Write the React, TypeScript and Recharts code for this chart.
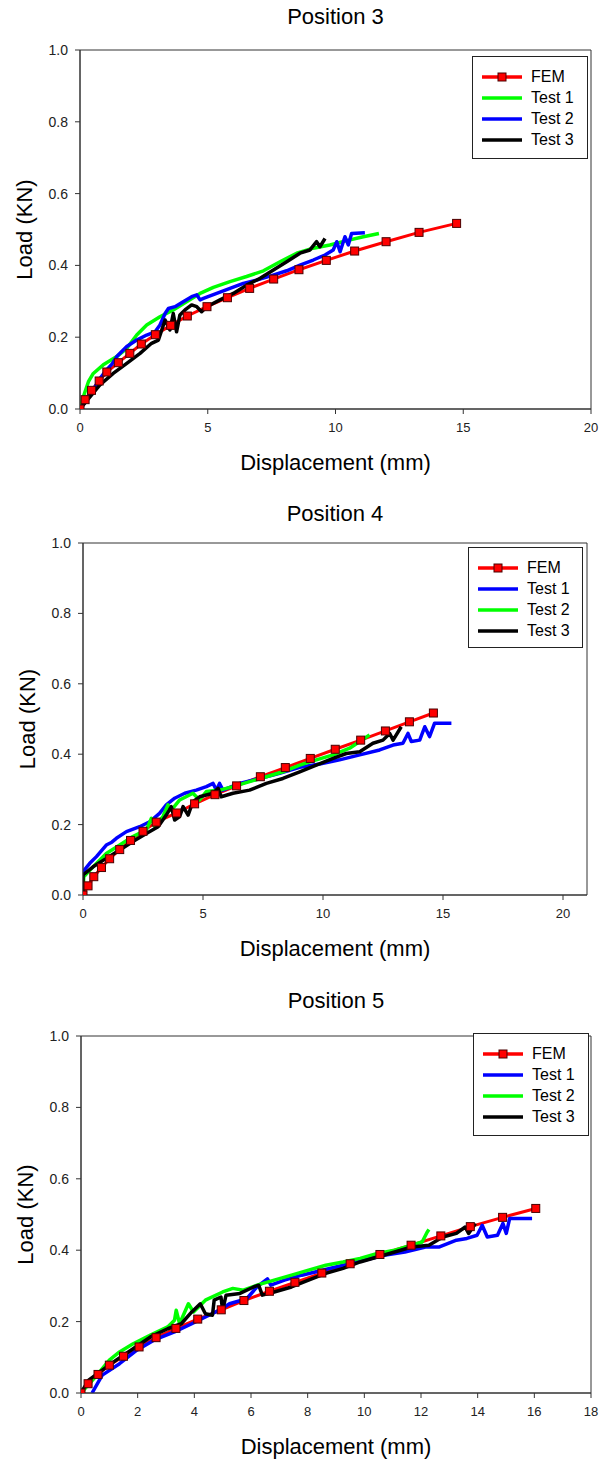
import React from 'react';
import { LineChart, Line, XAxis, YAxis, Legend, ReferenceArea, Label } from 'recharts';

type Pair = [number, number];

// FEM load steps (kN), shared by the three positions
const femLoads = [0, 0.026, 0.052, 0.078, 0.103, 0.129, 0.155, 0.181, 0.207, 0.233, 0.259,
  0.285, 0.31, 0.336, 0.362, 0.388, 0.414, 0.44, 0.466, 0.492, 0.517];

// FEM displacement (mm) at each load step
const pos3FemDisp = [0, 0.2, 0.45, 0.75, 1.05, 1.5, 1.95, 2.4, 2.95, 3.55, 4.2, 4.97, 5.77, 6.64, 7.58, 8.57, 9.64, 10.75, 11.98, 13.27, 14.74];
const pos4FemDisp = [0, 0.21, 0.45, 0.77, 1.11, 1.53, 1.98, 2.5, 3.05, 3.9, 4.65, 5.5, 6.4, 7.39, 8.43, 9.47, 10.51, 11.57, 12.6, 13.6, 14.6];
const pos5FemDisp = [0, 0.25, 0.6, 1.0, 1.5, 2.05, 2.65, 3.35, 4.12, 4.95, 5.75, 6.65, 7.55, 8.5, 9.5, 10.55, 11.65, 12.7, 13.74, 14.88, 16.05];

// test curves, [displacement, load]
const pos3Test1: Pair[] = [[0, 0], [0.13, 0.034], [0.33, 0.076], [0.52, 0.099], [0.91, 0.123], [1.44, 0.146], [1.83, 0.169],
  [2.22, 0.206], [2.61, 0.234], [3.13, 0.257], [3.65, 0.276], [4.17, 0.299], [4.7, 0.322], [5.22, 0.339], [5.87, 0.355],
  [6.52, 0.369], [7.18, 0.385], [7.83, 0.41], [8.48, 0.434], [9.13, 0.448], [9.78, 0.457], [10.44, 0.469], [11.09, 0.48], [11.7, 0.489]];
const pos3Test2: Pair[] = [[0, 0], [0.26, 0.025], [0.52, 0.053], [0.78, 0.085], [1.04, 0.109], [1.25, 0.125], [1.44, 0.146],
  [1.83, 0.174], [2.22, 0.192], [2.61, 0.206], [2.94, 0.215], [3.13, 0.234], [3.33, 0.266], [3.46, 0.28], [3.72, 0.285],
  [4.04, 0.299], [4.37, 0.313], [4.57, 0.318], [4.7, 0.304], [4.83, 0.308], [5.35, 0.322], [5.87, 0.336], [6.39, 0.35],
  [6.91, 0.359], [7.44, 0.37], [8.09, 0.385], [8.61, 0.401], [9.13, 0.415], [9.59, 0.429], [9.91, 0.443], [10.05, 0.466],
  [10.18, 0.438], [10.37, 0.48], [10.5, 0.457], [10.63, 0.489], [11.15, 0.491]];
const pos3Test3: Pair[] = [[0, 0], [0.39, 0.034], [0.78, 0.067], [1.3, 0.099], [1.83, 0.127], [2.35, 0.155], [2.8, 0.183],
  [3.07, 0.192], [3.2, 0.22], [3.33, 0.248], [3.52, 0.22], [3.65, 0.266], [3.78, 0.215], [3.91, 0.262], [4.11, 0.276],
  [4.37, 0.29], [4.57, 0.285], [4.76, 0.271], [4.96, 0.285], [5.48, 0.304], [6.0, 0.322], [6.52, 0.345], [7.05, 0.364],
  [7.57, 0.387], [8.09, 0.41], [8.61, 0.434], [9.0, 0.443], [9.26, 0.466], [9.39, 0.452], [9.59, 0.475]];

const pos4Test1: Pair[] = [[0, 0], [0, 0.066], [0.28, 0.09], [0.56, 0.109], [0.97, 0.142], [1.2, 0.15], [1.39, 0.161],
  [1.81, 0.18], [2.36, 0.194], [2.78, 0.208], [3.19, 0.232], [3.47, 0.256], [3.82, 0.275], [4.24, 0.289], [4.72, 0.298],
  [5.14, 0.308], [5.42, 0.317], [5.56, 0.298], [5.69, 0.317], [5.83, 0.298], [6.53, 0.317], [7.36, 0.331], [8.19, 0.346],
  [9.03, 0.363], [9.86, 0.372], [10.69, 0.384], [11.53, 0.398], [12.36, 0.412], [12.92, 0.426], [13.33, 0.431],
  [13.54, 0.459], [13.68, 0.436], [14.03, 0.44], [14.24, 0.478], [14.44, 0.45], [14.65, 0.488], [15.35, 0.488]];
const pos4Test2: Pair[] = [[0, 0], [0.03, 0.052], [0.42, 0.08], [0.97, 0.118], [1.53, 0.142], [2.08, 0.166], [2.64, 0.185],
  [2.85, 0.218], [2.99, 0.194], [3.33, 0.223], [3.54, 0.256], [3.68, 0.241], [4.03, 0.27], [4.58, 0.289], [4.86, 0.27],
  [5.14, 0.294], [5.69, 0.298], [6.25, 0.308], [6.94, 0.322], [7.64, 0.336], [8.33, 0.35], [9.03, 0.369], [9.72, 0.384],
  [10.42, 0.398], [11.11, 0.417], [11.53, 0.436], [11.94, 0.455]];
const pos4Test3: Pair[] = [[0, 0], [0, 0.057], [0.42, 0.08], [0.97, 0.104], [1.53, 0.128], [2.08, 0.152], [2.64, 0.175],
  [3.13, 0.194], [3.47, 0.227], [3.68, 0.251], [3.82, 0.213], [4.03, 0.223], [4.17, 0.251], [4.38, 0.227], [4.58, 0.265],
  [4.86, 0.279], [5.42, 0.289], [5.63, 0.303], [5.76, 0.279], [6.25, 0.289], [6.94, 0.298], [7.64, 0.317], [8.33, 0.331],
  [9.03, 0.35], [9.72, 0.369], [10.42, 0.388], [10.97, 0.402], [11.53, 0.407], [12.08, 0.431], [12.5, 0.44],
  [12.78, 0.459], [12.92, 0.44], [13.26, 0.478]];

const pos5Test1: Pair[] = [[0.39, 0], [0.75, 0.05], [1.36, 0.082], [1.97, 0.12], [2.57, 0.148], [3.3, 0.171], [3.91, 0.194],
  [4.39, 0.213], [4.88, 0.232], [5.24, 0.25], [5.85, 0.264], [6.21, 0.297], [6.58, 0.32], [6.7, 0.302], [7.18, 0.316],
  [7.79, 0.33], [8.52, 0.344], [9.25, 0.358], [9.98, 0.372], [10.7, 0.386], [11.43, 0.395], [12.16, 0.409], [12.65, 0.409],
  [13.25, 0.428], [13.62, 0.433], [13.98, 0.442], [14.16, 0.47], [14.34, 0.437], [14.7, 0.442], [14.89, 0.475],
  [15.01, 0.447], [15.13, 0.489], [15.92, 0.489]];
const pos5Test2: Pair[] = [[0, 0], [0.51, 0.045], [1.0, 0.092], [1.36, 0.115], [1.84, 0.138], [2.45, 0.162], [3.06, 0.185],
  [3.3, 0.204], [3.36, 0.232], [3.48, 0.194], [3.79, 0.25], [3.97, 0.227], [4.39, 0.26], [5.0, 0.283], [5.36, 0.293],
  [5.73, 0.288], [6.21, 0.302], [6.82, 0.316], [7.43, 0.33], [8.03, 0.344], [8.64, 0.358], [9.25, 0.367], [9.85, 0.377],
  [10.46, 0.391], [11.07, 0.4], [11.67, 0.414], [12.04, 0.423], [12.22, 0.451], [12.28, 0.458]];
const pos5Test3: Pair[] = [[0, 0], [0.27, 0.036], [0.75, 0.064], [1.24, 0.092], [1.84, 0.124], [2.45, 0.157], [3.06, 0.18],
  [3.54, 0.194], [3.91, 0.227], [4.21, 0.25], [4.39, 0.222], [4.64, 0.218], [4.7, 0.26], [4.94, 0.269], [5.0, 0.232],
  [5.12, 0.274], [5.61, 0.279], [6.09, 0.297], [6.27, 0.302], [6.4, 0.274], [6.82, 0.283], [7.43, 0.297], [8.03, 0.316],
  [8.64, 0.335], [9.25, 0.349], [9.85, 0.367], [10.46, 0.381], [11.07, 0.395], [11.67, 0.409], [12.28, 0.414],
  [12.77, 0.437], [13.25, 0.447], [13.56, 0.465], [13.68, 0.447], [13.92, 0.475]];

const xTicks20 = [0, 5, 10, 15, 20];
const xTicks18 = [0, 2, 4, 6, 8, 10, 12, 14, 16, 18];
const yTicks = [0, 0.2, 0.4, 0.6, 0.8, 1.0];

const RED = '#ff0000';
const GREEN = '#00ff00';
const BLUE = '#0000ff';
const BLACK = '#000000';
const FONT = '"Liberation Sans", Arial, sans-serif';

const toPoints = (pairs: Pair[]) => pairs.map(([x, y]) => ({ x, y }));
const femPoints = (disp: number[]) => disp.map((x, i) => ({ x, y: femLoads[i] }));

interface Series { name: string; color: string; data: { x: number; y: number }[]; marker?: boolean }

const FemSquare = (props: any) => {
  const { cx, cy, index } = props;
  if (cx == null || cy == null) return <g key={index} />;
  return <rect key={index} x={cx - 4} y={cy - 4} width={8} height={8} fill={RED} stroke="#4a0000" strokeWidth={1} />;
};

const renderLegend = (props: any) => {
  const { payload } = props;
  return (
    <div style={{ border: '1px solid #222', background: '#fff', width: '100%', height: '100%', boxSizing: 'border-box', paddingTop: 9, fontFamily: FONT }}>
      {(payload || []).map((entry: any) => (
        <div key={entry.value} style={{ display: 'flex', alignItems: 'center', height: 21, paddingLeft: 9 }}>
          <svg width={40} height={10} style={{ display: 'block' }}>
            <line x1={0} y1={5} x2={40} y2={5} stroke={entry.color} strokeWidth={3.5} />
            {entry.value === 'FEM' && <rect x={16} y={1} width={8} height={8} fill={RED} stroke="#4a0000" strokeWidth={1} />}
          </svg>
          <span style={{ marginLeft: 9, fontSize: 16, lineHeight: '21px', color: '#000' }}>{entry.value}</span>
        </div>
      ))}
    </div>
  );
};

const xTitle = (props: any) => {
  const { x, y, width } = props.viewBox;
  return (
    <text x={x + width / 2} y={y + 61} textAnchor="middle" fontSize={22} fill="#000" fontFamily={FONT}>
      Displacement (mm)
    </text>
  );
};

const yTitle = (props: any) => {
  const { x, y, width, height } = props.viewBox;
  const cx = x + width - 56;
  const cy = y + height / 2;
  return (
    <text x={cx} y={cy} transform={`rotate(-90, ${cx}, ${cy})`} textAnchor="middle" dominantBaseline="central" fontSize={22} fill="#000" fontFamily={FONT}>
      Load (KN)
    </text>
  );
};

interface PanelProps {
  title: string;
  top: number;
  height: number;
  titleTop: number;
  plotTop: number;
  yAxisWidth: number;
  rightGap: number;
  xAxisHeight: number;
  xMax: number;
  xTicks: number[];
  legendBox: { left: number; top: number; width: number; height: number };
  series: Series[];
}

const Panel: React.FC<PanelProps> = (p) => {
  const plotLeft = p.yAxisWidth;
  const plotWidth = 601 - p.yAxisWidth - p.rightGap;
  return (
    <div style={{ position: 'absolute', left: 0, top: p.top, width: 601, height: p.height }}>
      <div style={{ position: 'absolute', left: plotLeft, top: p.titleTop, width: plotWidth, textAlign: 'center', fontSize: 22, lineHeight: '22px', fontFamily: FONT, color: '#000' }}>
        {p.title}
      </div>
      <LineChart width={601} height={p.height} margin={{ top: p.plotTop, right: p.rightGap, bottom: 0, left: 0 }}>
        <XAxis type="number" dataKey="x" domain={[0, p.xMax]} ticks={p.xTicks} allowDataOverflow
          height={p.xAxisHeight} tickSize={5} tickMargin={9} stroke="#333"
          tick={{ fontSize: 13, fill: '#222' }}>
          <Label content={xTitle} />
        </XAxis>
        <YAxis type="number" domain={[0, 1]} ticks={yTicks} allowDataOverflow width={p.yAxisWidth}
          tickSize={5} tickMargin={7} stroke="#333" tick={{ fontSize: 14, fill: '#222' }}
          tickFormatter={(v: number) => v.toFixed(1)}>
          <Label content={yTitle} />
        </YAxis>
        <ReferenceArea x1={0} x2={p.xMax} y1={0} y2={1} fill="none" stroke="#333" strokeWidth={1} ifOverflow="visible" />
        {p.series.map((s) => (
          <Line key={s.name} name={s.name} data={s.data} dataKey="y" type="linear" stroke={s.color}
            strokeWidth={s.marker ? 3 : 3.5} strokeLinejoin="round"
            dot={s.marker ? FemSquare : false} activeDot={false} isAnimationActive={false} />
        ))}
        <Legend layout="horizontal" verticalAlign="middle" align="center" content={renderLegend}
          wrapperStyle={{ position: 'absolute', left: p.legendBox.left, top: p.legendBox.top, width: p.legendBox.width, height: p.legendBox.height }} />
      </LineChart>
    </div>
  );
};

export default function App() {
  return (
    <div style={{ position: 'absolute', left: 0, top: 0, width: 601, height: 1466, background: '#fff', fontFamily: FONT }}>
      <Panel title="Position 3" top={0} height={490} titleTop={6} plotTop={50} yAxisWidth={80} rightGap={10}
        xAxisHeight={81} xMax={20} xTicks={xTicks20}
        legendBox={{ left: 472, top: 56, width: 116, height: 103 }}
        series={[
          { name: 'FEM', color: RED, data: femPoints(pos3FemDisp), marker: true },
          { name: 'Test 1', color: GREEN, data: toPoints(pos3Test1) },
          { name: 'Test 2', color: BLUE, data: toPoints(pos3Test2) },
          { name: 'Test 3', color: BLACK, data: toPoints(pos3Test3) },
        ]} />
      <Panel title="Position 4" top={490} height={490} titleTop={13} plotTop={53} yAxisWidth={83} rightGap={14}
        xAxisHeight={85} xMax={21} xTicks={xTicks20}
        legendBox={{ left: 468, top: 57, width: 115, height: 101 }}
        series={[
          { name: 'FEM', color: RED, data: femPoints(pos4FemDisp), marker: true },
          { name: 'Test 1', color: BLUE, data: toPoints(pos4Test1) },
          { name: 'Test 2', color: GREEN, data: toPoints(pos4Test2) },
          { name: 'Test 3', color: BLACK, data: toPoints(pos4Test3) },
        ]} />
      <Panel title="Position 5" top={980} height={486} titleTop={10} plotTop={56} yAxisWidth={81} rightGap={10}
        xAxisHeight={73} xMax={18} xTicks={xTicks18}
        legendBox={{ left: 473, top: 53, width: 116, height: 103 }}
        series={[
          { name: 'FEM', color: RED, data: femPoints(pos5FemDisp), marker: true },
          { name: 'Test 1', color: BLUE, data: toPoints(pos5Test1) },
          { name: 'Test 2', color: GREEN, data: toPoints(pos5Test2) },
          { name: 'Test 3', color: BLACK, data: toPoints(pos5Test3) },
        ]} />
    </div>
  );
}
